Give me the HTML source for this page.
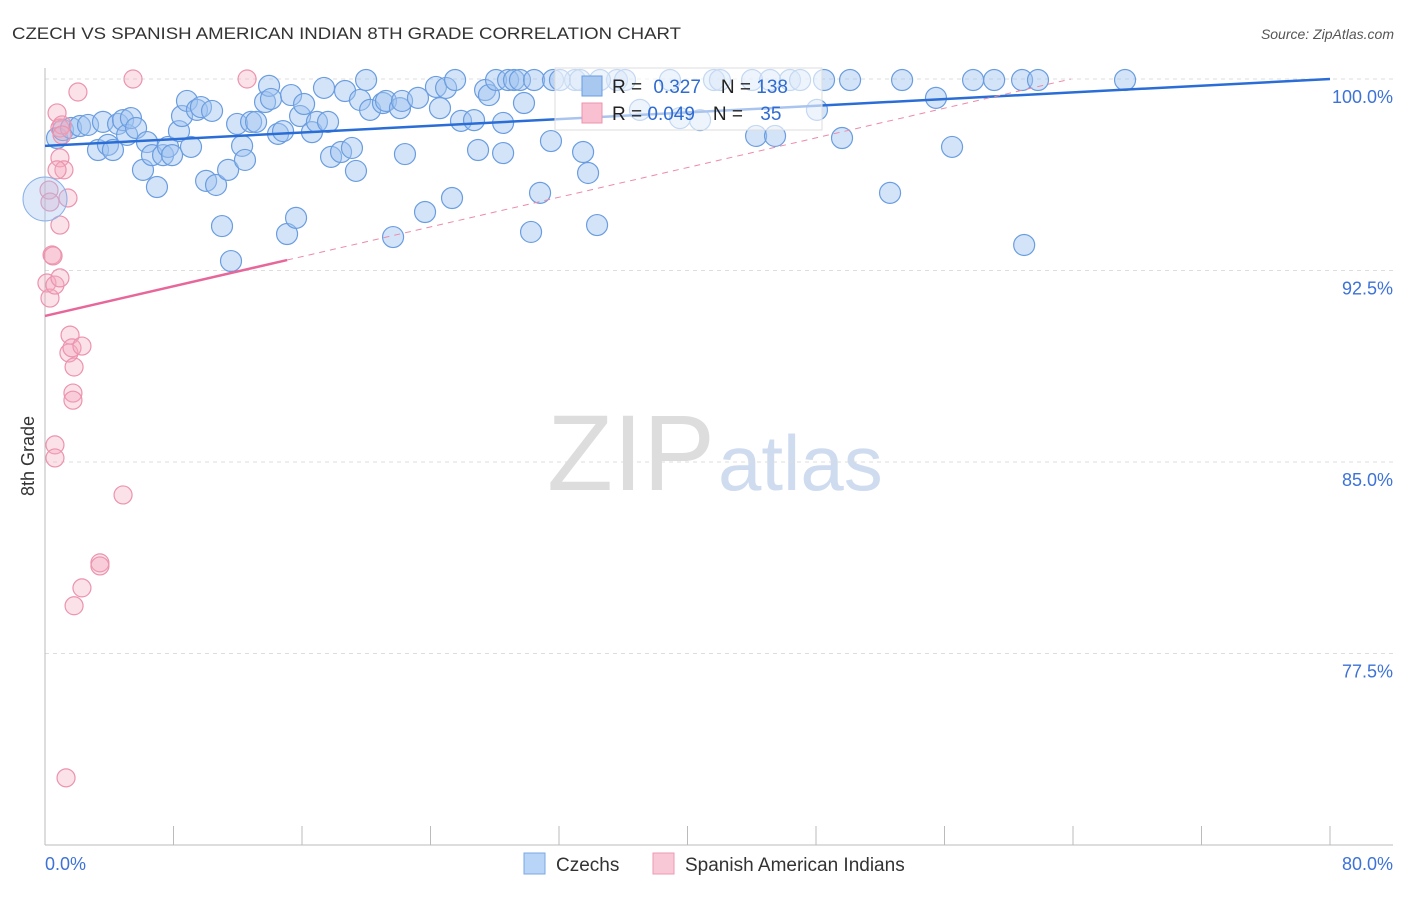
<!DOCTYPE html>
<html><head><meta charset="utf-8"><style>
body{margin:0;background:#fff;font-family:"Liberation Sans",sans-serif}
svg text{font-family:"Liberation Sans",sans-serif}
</style></head><body>
<svg id="chart" width="1406" height="892" xmlns="http://www.w3.org/2000/svg">
<text x="12" y="39" font-size="17" fill="#333" textLength="669" lengthAdjust="spacingAndGlyphs">CZECH VS SPANISH AMERICAN INDIAN 8TH GRADE CORRELATION CHART</text>
<text x="1394" y="39" font-size="14" fill="#555" font-style="italic" text-anchor="end">Source: ZipAtlas.com</text>
<text x="715" y="490" font-size="108" fill="#ddd" text-anchor="end" font-family="Liberation Serif">ZIP</text>
<text x="718" y="490" font-size="78" fill="#cfdcf0">atlas</text>
<g id="grid"></g><g id="axes"></g><g id="marks"></g><g id="lines"></g>
<g>
<rect x="555" y="68" width="267" height="62" fill="#fff" fill-opacity="0.6" stroke="#ddd"/>
<rect x="582" y="76" width="20" height="20" fill="#a8c8f0" stroke="#6a9de0"/>
<rect x="582" y="103" width="20" height="20" fill="#f8c0d0" stroke="#ec93ae"/>
<text x="612" y="93" font-size="19" fill="#222">R = <tspan fill="#2f6bd0" dx="6">0.327</tspan><tspan fill="#222" dx="20">N = </tspan><tspan fill="#2f6bd0">138</tspan></text>
<text x="612" y="120" font-size="19" fill="#222">R = <tspan fill="#2f6bd0">0.049</tspan><tspan fill="#222" dx="18">N = </tspan><tspan fill="#2f6bd0" dx="12">35</tspan></text>
</g>
<g>
<rect x="524" y="853" width="21" height="21" fill="#b8d4f6" stroke="#7aa8e4"/>
<text x="556" y="871" font-size="19" fill="#333">Czechs</text>
<rect x="653" y="853" width="21" height="21" fill="#f8c8d6" stroke="#ec9ab2"/>
<text x="685" y="871" font-size="19" fill="#333">Spanish American Indians</text>
</g>
<text transform="translate(34,456) rotate(-90)" font-size="18" fill="#333" text-anchor="middle">8th Grade</text>
</svg>
<script>
const yTicks=[100,92.5,85,77.5];
const yTickLabels=["100.0%","92.5%","85.0%","77.5%"];
const xTickLabels=["0.0%","80.0%"];
const czX=[0.75,1.12,1.62,2.18,2.68,3.30,3.61,3.92,4.23,4.55,4.86,5.11,5.35,5.67,6.10,6.35,6.66,6.97,7.35,7.66,7.91,8.34,8.53,8.84,9.09,9.46,9.71,10.03,10.40,10.65,11.02,11.40,11.58,11.96,12.27,12.45,12.83,13.14,13.70,13.95,14.07,14.51,14.82,15.07,15.32,15.63,15.88,16.13,16.62,16.93,17.37,17.62,17.81,18.43,18.68,19.11,19.36,19.61,19.99,20.24,21.04,21.23,21.67,22.10,22.23,22.41,23.22,23.66,24.34,24.59,24.97,25.34,25.53,25.90,26.71,26.96,27.40,27.64,28.08,28.52,28.52,28.83,29.20,29.57,29.82,30.26,30.45,30.82,31.50,31.63,33.00,33.50,33.81,34.37,35.61,36.11,41.65,44.02,44.27,45.45,46.38,48.06,48.50,50.12,49.62,52.61,53.36,55.47,56.47,57.78,59.09,60.83,60.96,61.82,67.24,47.01,45.14,38.91,32.06,33.31,34.55,37.04,40.78,39.53,42.02];
const czY=[97.69,98.00,98.08,98.16,98.20,97.22,98.32,97.42,97.22,98.24,98.39,97.81,98.47,98.08,96.44,97.53,97.02,95.77,97.02,97.34,97.02,97.96,98.55,99.14,97.34,98.79,98.90,96.01,98.75,95.85,94.24,96.44,92.87,98.24,97.38,96.83,98.32,98.32,99.10,99.73,99.22,97.85,97.96,93.93,99.37,94.56,98.55,99.02,97.92,98.32,99.65,98.32,96.95,97.14,99.53,97.30,96.40,99.18,99.96,98.79,99.06,99.14,93.81,98.86,99.14,97.06,99.26,94.79,99.69,98.86,99.65,95.34,99.96,98.36,98.39,97.22,99.57,99.37,99.96,97.10,98.28,99.96,99.96,99.96,99.06,94.01,99.96,95.54,97.57,99.96,99.96,97.14,96.32,94.28,99.96,99.96,99.96,99.96,97.77,97.77,99.96,98.79,99.96,99.96,97.69,95.54,99.96,99.26,97.34,99.96,99.96,99.96,93.50,99.96,99.96,99.96,99.96,99.96,99.96,99.96,99.96,98.79,98.39,98.47,99.96];
const spX=[0.25,0.31,0.44,0.50,0.12,0.31,0.62,0.75,0.93,0.93,1.06,1.06,1.18,0.93,0.93,1.43,1.56,1.49,1.68,1.81,1.74,1.74,2.30,2.05,0.62,0.62,4.86,3.42,3.42,2.30,1.81,1.31,5.48,12.58,0.75];
const spY=[95.65,95.18,93.11,93.07,92.01,91.42,91.93,98.67,98.08,96.91,98.20,97.81,96.44,94.28,92.21,95.34,89.97,89.27,89.47,88.72,87.70,87.42,89.54,99.49,85.67,85.16,83.71,81.05,80.93,80.07,79.37,72.63,100,100,96.44];
const czLine=[97.38,0.03275];
const spLine=[90.72,0.1453];
const NS="http://www.w3.org/2000/svg";
const X=v=>45+v/80*1285;
const Y=v=>79+(100-v)/7.5*191.5;
function mk(tag,attrs,parent){const e=document.createElementNS(NS,tag);for(const k in attrs)e.setAttribute(k,attrs[k]);document.getElementById(parent).appendChild(e);return e;}
yTicks.forEach((t,i)=>{
 const g=mk('line',{x1:45,x2:1393,y1:Y(t),y2:Y(t),stroke:'#ddd','stroke-dasharray':'4,4'},'grid');
 
 
 const l=mk('text',{x:1393,y:Y(t)+24,'font-size':18,fill:'#3d72d6','text-anchor':'end'},'axes');l.textContent=yTickLabels[i];
 
 
});
const ax=mk('line',{x1:45,x2:45,y1:68,y2:845,stroke:'#bbb'},'axes');


const bx=mk('line',{x1:45,x2:1393,y1:845,y2:845,stroke:'#bbb'},'axes');


for(let i=0;i<=10;i++){const t=mk('line',{x1:X(i*8),x2:X(i*8),y1:826,y2:845,stroke:'#bbb'},'axes');
 
 }
[[0,'start',xTickLabels[0]],[80,'end',xTickLabels[1]]].forEach(a=>{const t=mk('text',{x:a[0]==0?45:1393,y:870,'font-size':18,fill:'#3d72d6','text-anchor':a[1]},'axes');t.textContent=a[2];
 
 });
czX.forEach((x,i)=>{const c=mk('circle',{cx:X(x),cy:Y(czY[i]),r:10.5,fill:'rgba(160,196,240,0.45)',stroke:'#6a9de0','stroke-width':1.2},'marks');
 
 });
spX.forEach((x,i)=>{const c=mk('circle',{cx:X(x),cy:Y(spY[i]),r:9,fill:'rgba(244,170,190,0.35)',stroke:'#ec93ae','stroke-width':1.2},'marks');
 
 });
const big1=mk('circle',{cx:X(0),cy:Y(95.3),r:22,fill:'rgba(160,196,240,0.35)',stroke:'#8ab0e6'},'marks');


const l1=mk('line',{x1:X(0),y1:Y(czLine[0]),x2:X(80),y2:Y(czLine[0]+czLine[1]*80),stroke:'#2a6dd6','stroke-width':2.5},'lines');


const xe=(100-spLine[0])/spLine[1];
const l2=mk('line',{x1:X(15.07),y1:Y(spLine[0]+spLine[1]*15.07),x2:X(xe),y2:Y(100),stroke:'#ec8aa8','stroke-width':1,'stroke-dasharray':'6,5'},'lines');


const l3=mk('line',{x1:X(0),y1:Y(spLine[0]),x2:X(15.07),y2:Y(spLine[0]+spLine[1]*15.07),stroke:'#e8679a','stroke-width':2.5},'lines');


</script>
</body></html>
